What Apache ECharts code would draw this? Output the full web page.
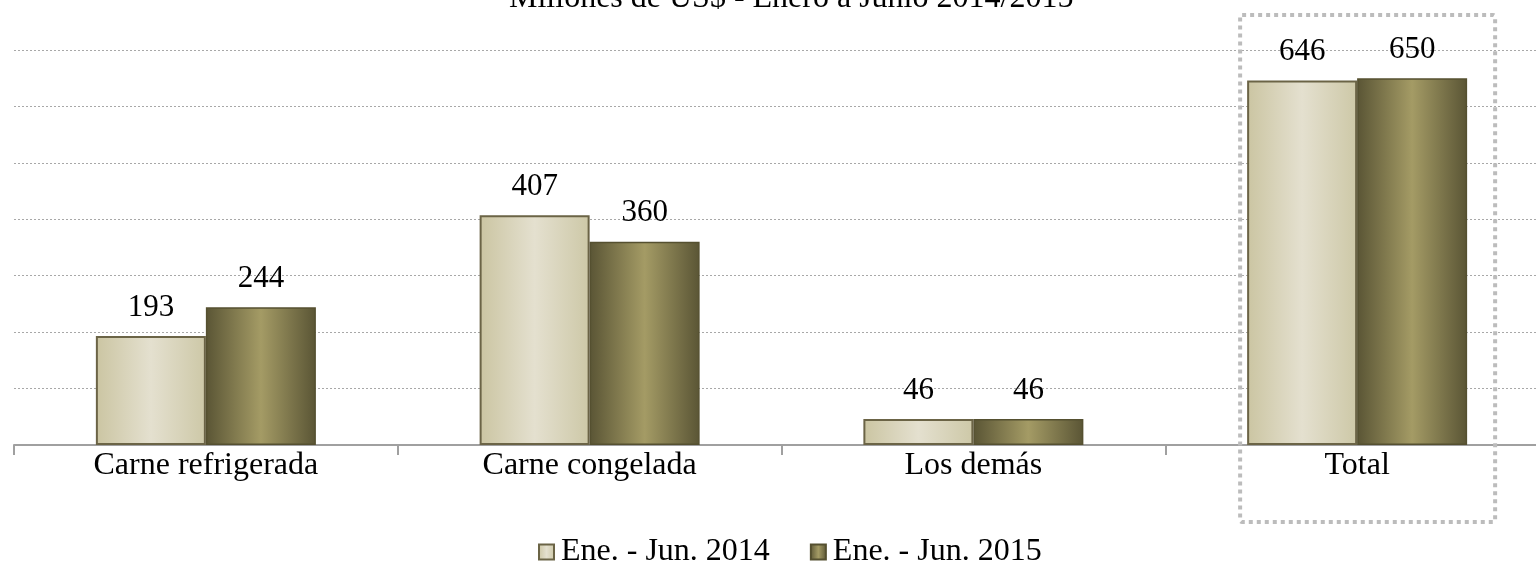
<!DOCTYPE html>
<html><head><meta charset="utf-8">
<script src="https://cdn.jsdelivr.net/npm/echarts@6/dist/echarts.min.js"></script>
<style>html,body{margin:0;padding:0;background:#fff;overflow:hidden}#c{width:1549px;height:570px}</style>
</head><body><div id="c"></div>
<script>
const titleText = 'Millones de US$ - Enero a Junio 2014/2015';
const categories = ['Carne refrigerada', 'Carne congelada', 'Los demás', 'Total'];
const seriesNames = ['Ene. - Jun. 2014', 'Ene. - Jun. 2015'];
const values2014 = [193, 407, 46, 646];
const values2015 = [244, 360, 46, 650];

const FONT = '"Liberation Serif", "DejaVu Serif", serif';
const chart = echarts.init(document.getElementById('c'), null, {renderer: 'canvas'});

function grad(edge, mid, edge2) {
  return new echarts.graphic.LinearGradient(0, 0, 1, 0, [
    {offset: 0, color: edge}, {offset: 0.5, color: mid}, {offset: 1, color: edge2}
  ]);
}
const labelCfg = {show: true, position: 'top', distance: 13, color: '#000', fontFamily: FONT, fontSize: 31};

chart.setOption({
  animation: false,
  title: {text: titleText, left: 504, top: -22,
    textStyle: {fontFamily: FONT, fontSize: 32, fontWeight: 'normal', color: '#000'}},
  legend: {top: 531, left: 533, itemWidth: 15, itemHeight: 15, itemGap: 40, icon: 'rect',
    textStyle: {fontFamily: FONT, fontSize: 32, color: '#000', padding: [0, 0, 0, 2]},
    data: seriesNames},
  grid: {left: 14, right: 0, top: 50, bottom: 125, containLabel: false},
  xAxis: {type: 'category', data: categories,
    axisLine: {lineStyle: {color: '#a0a0a0', width: 2}},
    axisTick: {show: true, length: 10, lineStyle: {color: '#a0a0a0', width: 2}},
    axisLabel: {color: '#000', fontFamily: FONT, fontSize: 32, margin: 5}},
  yAxis: {type: 'value', min: 0, max: 700, interval: 100,
    axisLabel: {show: false}, axisLine: {show: false}, axisTick: {show: false},
    splitLine: {lineStyle: {color: '#a8a8a8', type: [2, 2], width: 1}}},
  series: [
    {name: seriesNames[0], type: 'bar', data: values2014, barWidth: 110, barGap: '0%',
      itemStyle: {color: grad('#cbc5a2', '#e4e0cf', '#cdc8a7'), borderColor: '#6b6446', borderWidth: 2},
      label: labelCfg},
    {name: seriesNames[1], type: 'bar', data: values2015, barWidth: 110,
      itemStyle: {color: grad('#5a5535', '#a49b65', '#5a5535'), borderColor: '#555030', borderWidth: 1.5},
      label: labelCfg}
  ]
});

const cx = chart.convertToPixel({xAxisIndex: 0}, 'Total');
chart.setOption({
  graphic: [{type: 'rect', silent: true, z: 100,
    shape: {x: cx - 117, y: 15, width: 255, height: 507, r: 2},
    style: {fill: 'none', stroke: '#bcbcbc', lineWidth: 4, lineDash: [4, 4]}}]
});
</script></body></html>
